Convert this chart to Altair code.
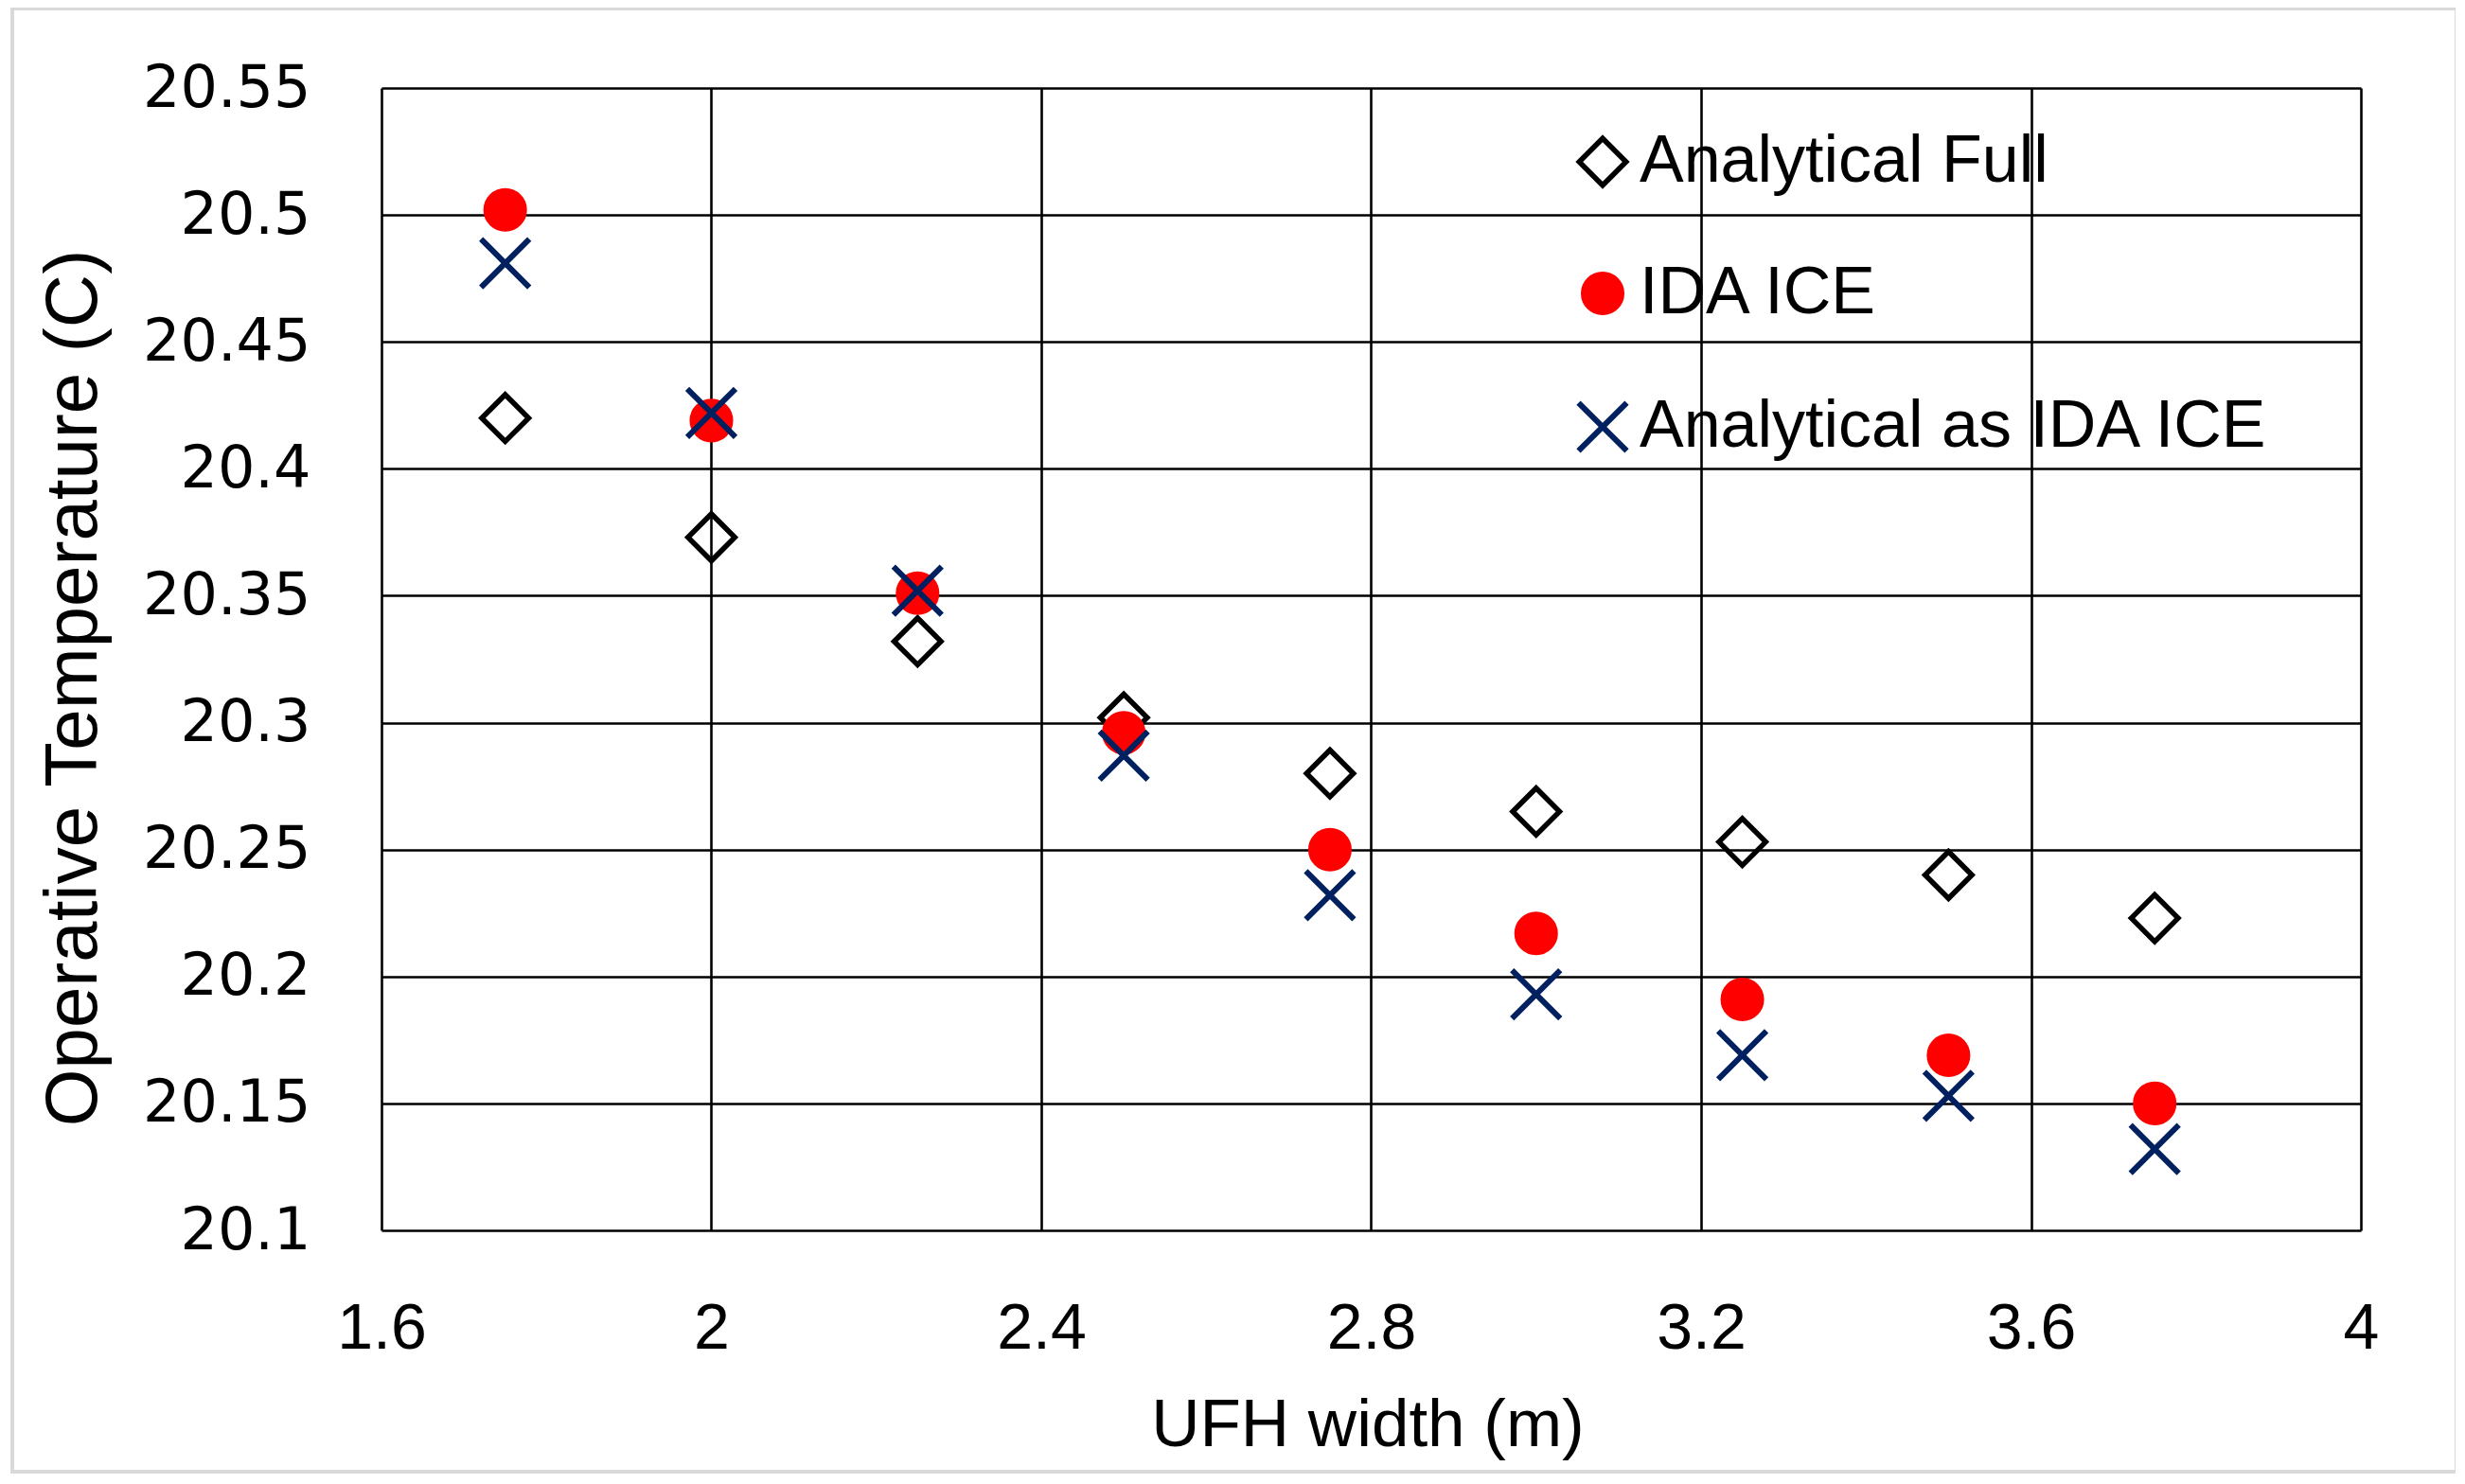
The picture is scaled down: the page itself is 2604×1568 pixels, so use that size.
import altair as alt
import pandas as pd

# ---- data ----
ufh_width = [1.75, 2.0, 2.25, 2.5, 2.75, 3.0, 3.25, 3.5, 3.75]
analytical_full = [20.420, 20.373, 20.332, 20.302, 20.280, 20.265, 20.253, 20.240, 20.223]
ida_ice = [20.502, 20.419, 20.351, 20.296, 20.250, 20.217, 20.191, 20.169, 20.150]
analytical_as_ida = [20.481, 20.422, 20.352, 20.287, 20.232, 20.193, 20.169, 20.153, 20.132]

series_names = ["Analytical Full", "IDA ICE", "Analytical as IDA ICE"]
x_ticks = [1.6, 2.0, 2.4, 2.8, 3.2, 3.6, 4.0]
y_ticks = [20.1, 20.15, 20.2, 20.25, 20.3, 20.35, 20.4, 20.45, 20.5, 20.55]

rows = []
for name, vals in zip(series_names, [analytical_full, ida_ice, analytical_as_ida]):
    for xv, yv in zip(ufh_width, vals):
        rows.append({"width": xv, "temp": yv, "series": name})
df = pd.DataFrame(rows)

W, H = 2091, 1207

x_enc = alt.X(
    "width:Q",
    scale=alt.Scale(domain=[1.6, 4.0], nice=False, zero=False),
    axis=alt.Axis(
        values=x_ticks, format=".1~f", title="UFH width (m)",
        labelFont="Liberation Sans", labelFontSize=68, labelColor="black",
        labelPadding=70, ticks=False, domain=False,
        titleFont="Liberation Sans", titleFontSize=71, titleFontWeight="normal",
        titleColor="black", titleX=W / 2 - 4, titleY=206, titleBaseline="middle",
        titleAlign="center", gridColor="black", gridWidth=2.6, gridOpacity=1,
        labelFlush=False,
    ),
)
y_enc = alt.Y(
    "temp:Q",
    scale=alt.Scale(domain=[20.1, 20.55], nice=False, zero=False),
    axis=alt.Axis(
        values=y_ticks, format=".2~f", title="Operative Temperature (C)",
        labelFont="DejaVu Sans", labelFontSize=62, labelColor="black",
        labelPadding=75, ticks=False, domain=False,
        titleFont="Liberation Sans", titleFontSize=78, titleFontWeight="normal",
        titleColor="black", titleX=-325, titleY=H / 2 + 30, titleAngle=-90,
        titleBaseline="middle", titleAlign="center",
        gridColor="black", gridWidth=2.6, gridOpacity=1, labelFlush=False,
    ),
)

legend = alt.Legend(
    title=None, orient="none", legendX=1255, legendY=43, padding=0,
    labelFont="Liberation Sans", labelFontSize=70, labelColor="black",
    labelOffset=4, labelLimit=0, rowPadding=68,
)

points = alt.Chart(df).mark_point(filled=False, opacity=1).encode(
    x=x_enc,
    y=y_enc,
    shape=alt.Shape(
        "series:N",
        scale=alt.Scale(domain=series_names,
                        range=["diamond", "circle", "M-1,-1L1,1M-1,1L1,-1"]),
        legend=legend,
    ),
    color=alt.Color(
        "series:N",
        scale=alt.Scale(domain=series_names, range=["black", "#FF0000", "#002060"]),
        legend=legend,
    ),
    fill=alt.Fill(
        "series:N",
        scale=alt.Scale(domain=series_names, range=["transparent", "#FF0000", "transparent"]),
        legend=legend,
    ),
    size=alt.Size(
        "series:N",
        scale=alt.Scale(type="ordinal", domain=series_names, range=[2450, 1940, 2600]),
        legend=legend,
    ),
    strokeWidth=alt.StrokeWidth(
        "series:N",
        scale=alt.Scale(type="ordinal", domain=series_names, range=[5.5, 2, 6]),
        legend=legend,
    ),
)

frame = alt.Chart(df).mark_rect(
    fill="transparent", stroke="#d9d9d9", strokeWidth=3, clip=False
).encode(
    x=alt.value(-390), x2=alt.value(2192), y=alt.value(-84), y2=alt.value(1462)
)

chart = alt.layer(frame, points).properties(
    width=W, height=H,
    autosize=alt.AutoSizeParams(type="none"),
    padding={"left": 395, "top": 85, "right": 100, "bottom": 260},
).configure_view(
    stroke="black", strokeWidth=2.6
).configure(background="white")

chart.save("out.html", embed_options={"renderer": "svg", "actions": False})
